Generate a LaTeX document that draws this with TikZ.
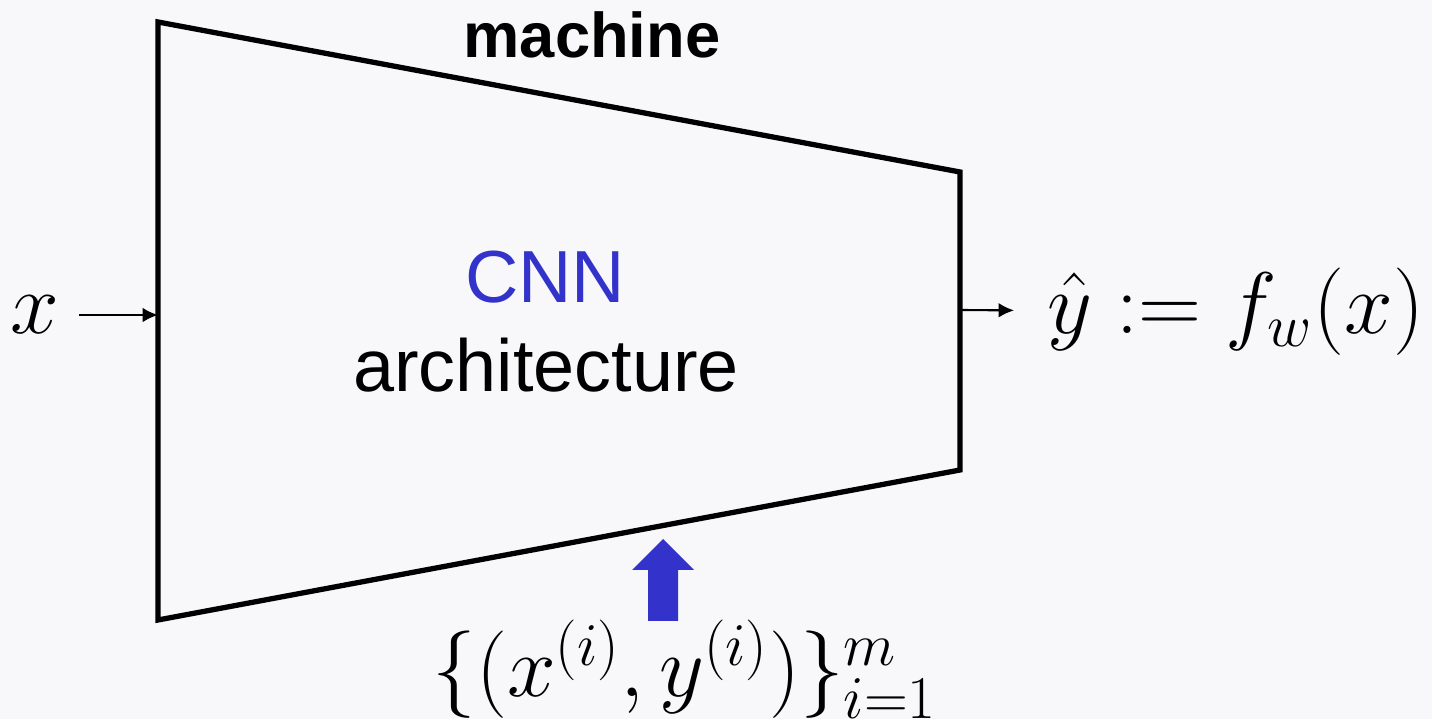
\documentclass[tikz,border=0pt]{standalone}
\usepackage{amsmath,amssymb}
\usepackage{fontspec}
\setsansfont{Liberation Sans}
\usepackage{tikz}
\usetikzlibrary{arrows.meta}

\definecolor{bgcol}{RGB}{248,248,250}
\definecolor{cnnblue}{RGB}{51,51,204}

\begin{document}
\begin{tikzpicture}[
  mathlbl/.style={font=\fontsize{23}{28}\selectfont},
  sanslbl/.style={font=\fontsize{21}{25}\selectfont\sffamily},
  thin arrow/.style={-{Latex[length=4.4pt,width=4.2pt]},line width=0.6pt}
]

\fill[bgcol] (0,0) rectangle (14.32,7.19);
\useasboundingbox (0,0) rectangle (14.32,7.19);

  % corners of the machine
  \coordinate (tl) at (1.58,6.97);
  \coordinate (tr) at (9.60,5.47);
  \coordinate (br) at (9.60,2.49);
  \coordinate (bl) at (1.58,0.99);
  \coordinate (in) at (1.58,4.04);
  \coordinate (out) at (9.60,4.09);

  \draw[line width=1.5pt] (tl) -- (tr) -- (br) -- (bl) -- cycle;

  \node (title) at (5.92,6.84) {\fontsize{18}{22}\selectfont\sffamily\bfseries machine};
  \node[sanslbl,text=cnnblue] (cnn) at (5.45,4.42) {CNN};
  \node[sanslbl] (arch) at (5.46,3.54) {architecture};

  \node[mathlbl] (x) at (0.35,4.04) {$x$};
  \node[mathlbl] (yhat) at (12.36,4.07) {$\hat{y} := f_w(x)$};
  \node[mathlbl,anchor=base] (data) at (6.85,0.22) {$\{(x^{(i)},y^{(i)})\}_{i=1}^{m}$};

  \draw[thin arrow,shorten <=2pt] (x) -- (in);
  \draw[thin arrow,shorten >=6pt] (out) -- (yhat);

  % training data goes in
  \fill[cnnblue] (6.48,0.98) -- (6.78,0.98) -- (6.78,1.49) -- (6.94,1.49)
    -- (6.63,1.80) -- (6.32,1.49) -- (6.48,1.49) -- cycle;

\end{tikzpicture}
\end{document}
